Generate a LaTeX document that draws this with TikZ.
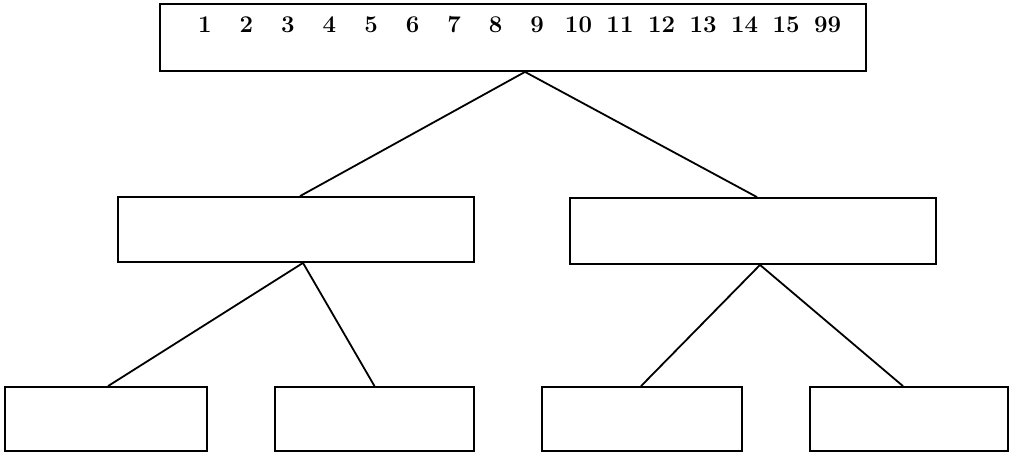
\documentclass[tikz,border=0pt]{standalone}
\usetikzlibrary{positioning}

\begin{document}
\begin{tikzpicture}[
    x=0.5pt, y=-0.5pt,
    box/.style={
        rectangle,
        draw=black,
        line width=0.9pt,
        inner sep=0pt
    },
    num/.style={
        font=\fontsize{12}{14}\selectfont\bfseries,
        inner sep=0pt
    },
    link/.style={line width=0.9pt, black}
]
\useasboundingbox (0,0) rectangle (1010,452);

% root holding all keys
\node[box, minimum width=353pt, minimum height=33.5pt] (root) at (513,37.5) {};
\foreach \k [count=\i] in {1,2,3,4,5,6,7,8,9,10,11,12,13,14,15,99}
    \node[num] (k\i) at ({205+41.5*(\i-1)},25) {\k};

% second level
\node[box, minimum width=178pt, minimum height=32.5pt] (midL) at (296,229.5) {};
\node[box, minimum width=183pt, minimum height=33pt] (midR) at (753,231) {};

% leaves
\node[box, minimum width=101pt, minimum height=32pt] (leafA) at (106,419) {};
\node[box, minimum width=99.5pt, minimum height=32pt] (leafB) at (374.5,419) {};
\node[box, minimum width=100pt, minimum height=32pt] (leafC) at (642,419) {};
\node[box, minimum width=99pt, minimum height=32pt] (leafD) at (909,419) {};

\draw[link] ([xshift=6pt]root.south) -- ([xshift=2pt]midL.north);
\draw[link] ([xshift=6pt]root.south) -- ([xshift=2pt]midR.north);
\draw[link] ([xshift=3.5pt]midL.south) -- ([xshift=1pt]leafA.north);
\draw[link] ([xshift=3.5pt]midL.south) -- (leafB.north);
\draw[link] ([xshift=3.5pt]midR.south) -- ([xshift=-0.5pt]leafC.north);
\draw[link] ([xshift=3.5pt]midR.south) -- ([xshift=-3pt]leafD.north);
\end{tikzpicture}
\end{document}
